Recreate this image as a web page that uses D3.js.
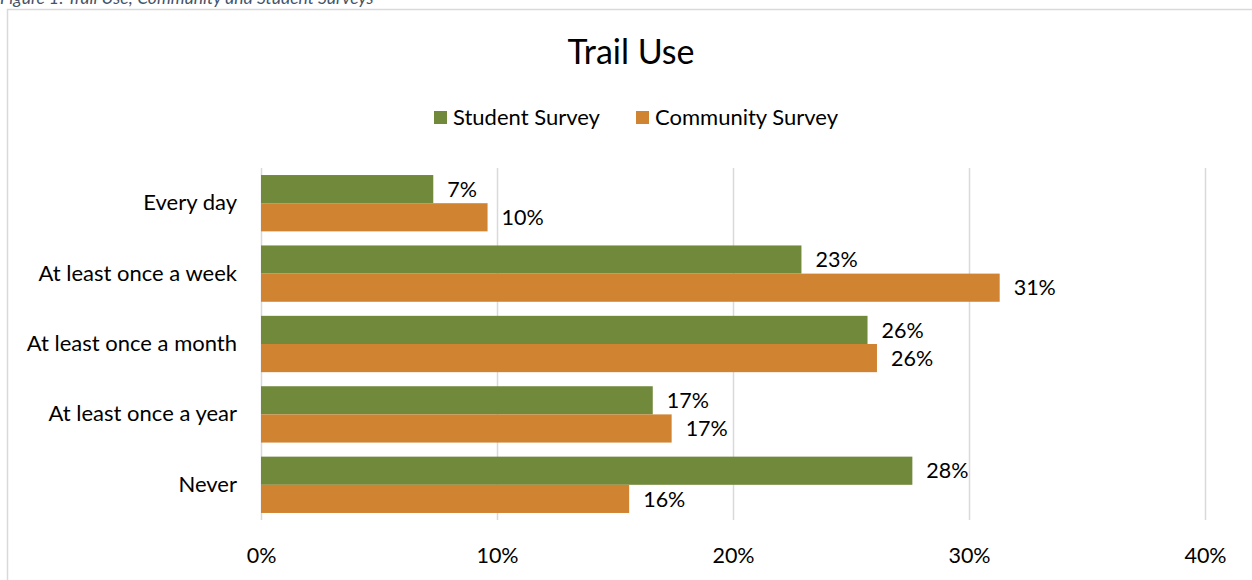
<!DOCTYPE html>
<html><head><meta charset="utf-8">
<script src="https://cdn.jsdelivr.net/npm/d3@7/dist/d3.min.js"></script>
<style>body{margin:0;background:#fff;}svg{display:block;font-family:Lato,"Open Sans",sans-serif;}</style>
</head><body>
<svg id="c" width="1252" height="580"></svg>
<script>
const categories = ["Every day","At least once a week","At least once a month","At least once a year","Never"];
const seriesNames = ["Student Survey","Community Survey"];
const studentValues = [7.3, 22.9, 25.7, 16.6, 27.6];
const communityValues = [9.6, 31.3, 26.1, 17.4, 15.6];
const xTicks = [0, 10, 20, 30, 40];
const colors = ["#70893B", "#D08330"];

const svg = d3.select("#c");
const font = 'Lato, "Open Sans", sans-serif';

// caption (cut at top, as in the source)
svg.append("text").attr("x", 0).attr("y", 4).attr("font-style","italic")
  .attr("font-size", 17.5).attr("fill","#44546A").text("Figure 1: Trail Use; Community and Student Surveys");

// chart border
svg.append("path").attr("d","M7.5,580 L7.5,9.5 L1252,9.5").attr("fill","none").attr("stroke","#d9d9d9").attr("stroke-width",1.5);

const x = d3.scaleLinear().domain([0,40]).range([261,1205]);
const y = d3.scaleBand().domain(categories).range([168,520]).paddingInner(0.2).paddingOuter(0.1);
const y1 = d3.scaleBand().domain(seriesNames).range([0, y.bandwidth()]);

// gridlines via axis
const gx = svg.append("g").attr("transform","translate(0,520)")
  .call(d3.axisBottom(x).tickValues(xTicks).tickSize(-352).tickFormat(d=>d+"%"));
gx.select(".domain").remove();
gx.selectAll(".tick line").attr("stroke","#d9d9d9").attr("stroke-width",1.5);
gx.selectAll(".tick text").attr("font-size",21.5).attr("fill","#000").attr("dy",0).attr("y",43).attr("font-family",font);

// title
svg.append("text").attr("x",631).attr("y",64).attr("text-anchor","middle").attr("font-size",34).attr("fill","#000").text("Trail Use");

// legend
const legendX = [434, 636];
seriesNames.forEach((s,i)=>{
  svg.append("rect").attr("x",legendX[i]).attr("y",111).attr("width",13).attr("height",13).attr("fill",colors[i]);
  svg.append("text").attr("x",legendX[i]+19).attr("y",125).attr("font-size",22).attr("fill","#000").text(s);
});

// y axis labels
const gy = svg.append("g").attr("transform","translate(261,0)").call(d3.axisLeft(y).tickSize(0).tickPadding(24));
gy.select(".domain").remove();
gy.selectAll(".tick text").attr("font-size",22).attr("fill","#000").attr("font-family",font);

const data = categories.map((c,i)=>({cat:c, vals:[studentValues[i], communityValues[i]]}));
const groups = svg.append("g").selectAll("g").data(data).join("g")
  .attr("transform", d=>`translate(0,${y(d.cat)})`);
groups.selectAll("rect").data(d=>d.vals.map((v,i)=>({v, s:seriesNames[i], i}))).join("rect")
  .attr("x", x(0)).attr("y", d=>y1(d.s)).attr("width", d=>x(d.v)-x(0)).attr("height", y1.bandwidth())
  .attr("fill", d=>colors[d.i]);
groups.selectAll("text.lbl").data(d=>d.vals.map((v,i)=>({v, s:seriesNames[i], i}))).join("text")
  .attr("class","lbl").attr("x", d=>x(d.v)+14).attr("y", d=>y1(d.s)+y1.bandwidth()/2).attr("dy","0.36em")
  .attr("font-size",21.5).attr("fill","#000").text(d=>Math.round(d.v)+"%");
</script>
</body></html>
